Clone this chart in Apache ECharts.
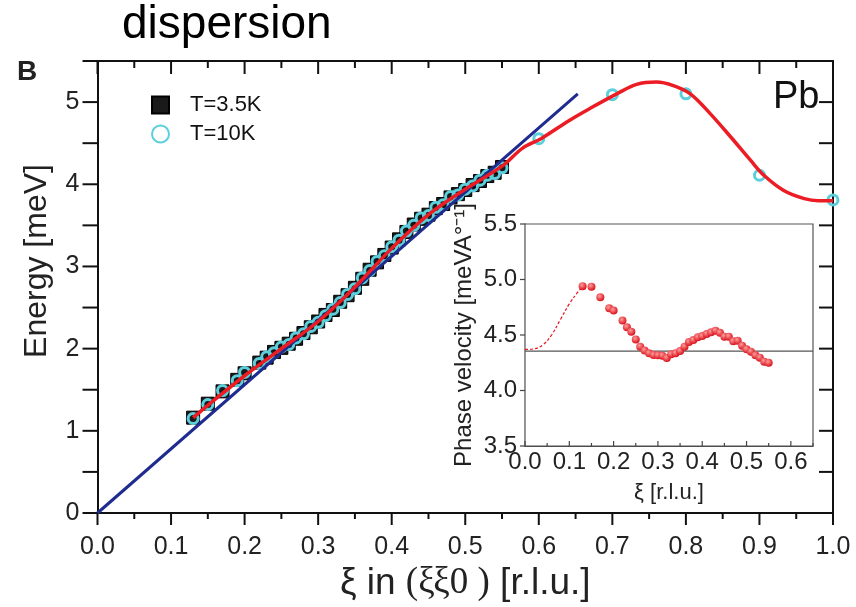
<!DOCTYPE html>
<html>
<head>
<meta charset="utf-8">
<script src="https://cdn.jsdelivr.net/npm/echarts@6/dist/echarts.min.js"></script>
<style>
  html, body { margin: 0; padding: 0; background: #fff; overflow: hidden; }
  #main { width: 856px; height: 607px; }
</style>
</head>
<body>
<div id="main"></div>
<script>
// measured points (T=3.5K and T=10K overlap below 0.55)
var xi = [0.13, 0.15, 0.17, 0.19, 0.20, 0.22, 0.23, 0.24, 0.25, 0.26, 0.27, 0.28, 0.29,
  0.30, 0.31, 0.32, 0.33, 0.34, 0.35, 0.36, 0.37, 0.38, 0.39, 0.40, 0.41, 0.42, 0.43,
  0.44, 0.45, 0.46, 0.47, 0.48, 0.49, 0.50, 0.51, 0.52, 0.53, 0.54, 0.55];
var e35K = [1.16, 1.33, 1.48, 1.62, 1.70, 1.83, 1.89, 1.96, 2.01, 2.06, 2.12, 2.19, 2.26,
  2.33, 2.41, 2.47, 2.57, 2.65, 2.74, 2.85, 2.96, 3.05, 3.14, 3.23, 3.33, 3.42, 3.51,
  3.58, 3.63, 3.71, 3.76, 3.84, 3.88, 3.93, 3.99, 4.04, 4.10, 4.14, 4.21];
var xi10K = xi.concat([0.6, 0.7, 0.8, 0.9, 1.0]);
var e10K = [1.15, 1.32, 1.49, 1.61, 1.71, 1.82, 1.90, 1.95, 2.02, 2.05, 2.13, 2.18, 2.27,
  2.32, 2.40, 2.48, 2.56, 2.66, 2.73, 2.86, 2.95, 3.06, 3.13, 3.24, 3.32, 3.43, 3.50,
  3.59, 3.62, 3.72, 3.75, 3.85, 3.87, 3.94, 3.98, 4.05, 4.11, 4.13, 4.20,
  4.555, 5.09, 5.10, 4.11, 3.81];

// red fit curve
var fitXi = [0.13, 0.15, 0.20, 0.25, 0.30, 0.35, 0.40, 0.45, 0.50, 0.55, 0.578, 0.603, 0.642,
  0.669, 0.706, 0.733, 0.760, 0.783, 0.806, 0.833, 0.861, 0.888, 0.906, 0.933, 0.961, 0.98, 1.0];
var fitE = [1.16, 1.31, 1.67, 2.00, 2.33, 2.75, 3.22, 3.63, 3.94, 4.22, 4.44, 4.555, 4.78,
  4.92, 5.10, 5.215, 5.243, 5.20, 5.10, 4.86, 4.575, 4.29, 4.11, 3.925, 3.825, 3.80, 3.80];

// blue linear (sound velocity) line
var linXi = [0, 0.653];
var linE = [0, 5.10];

// inset: phase velocity
var phaseV = [4.94, 4.935, 4.84, 4.74, 4.72, 4.63, 4.57, 4.53, 4.46, 4.395, 4.36, 4.335, 4.32,
  4.317, 4.314, 4.293, 4.326, 4.335, 4.356, 4.395, 4.437, 4.455, 4.479, 4.49, 4.509, 4.524, 4.539,
  4.52, 4.485, 4.485, 4.443, 4.449, 4.404, 4.371, 4.35, 4.317, 4.296, 4.26, 4.25];
var dashXi = [0, 0.02, 0.04, 0.06, 0.08, 0.10, 0.12, 0.13];
var dashV = [4.37, 4.375, 4.41, 4.50, 4.64, 4.78, 4.89, 4.93];
var refXi = [0, 0.65];
var refV = [4.355, 4.355];

// tick values
var xMajor = [0, 0.1, 0.2, 0.3, 0.4, 0.5, 0.6, 0.7, 0.8, 0.9, 1.0];
var xMinor = [0.05, 0.15, 0.25, 0.35, 0.45, 0.55, 0.65, 0.75, 0.85, 0.95];
var yTicks = [0, 0.5, 1, 1.5, 2, 2.5, 3, 3.5, 4, 4.5, 5, 5.5];
var inXMajor = [0, 0.1, 0.2, 0.3, 0.4, 0.5, 0.6];
var inXMinor = [0.05, 0.15, 0.25, 0.35, 0.45, 0.55, 0.65];
var inYTicks = [3.5, 4.0, 4.5, 5.0, 5.5];

function pairs(xs, ys) {
  return xs.map(function (x, i) { return [x, ys[i]]; });
}
function marked(vals, kind) {
  return vals.map(function (v) { return [v, kind]; });
}

var narrow = "'Liberation Sans Narrow', 'Liberation Sans', Arial, sans-serif";
var sans = "'Liberation Sans', Arial, sans-serif";
var ink = '#111';

function line(c, w) { return { show: true, onZero: false, lineStyle: { color: c, width: w } }; }
function seg(x1, y1, x2, y2, c, w) {
  return { type: 'line', shape: { x1: x1, y1: y1, x2: x2, y2: y2 }, style: { stroke: c, lineWidth: w } };
}

// tick marks drawn through the axes' own scales
function mainXTicks(params, api) {
  var v = api.value(0), major = api.value(1) === 1;
  var b = api.coord([v, 0]), t = api.coord([v, 5.5]);
  return { type: 'group', children: [
    seg(b[0], b[1], b[0], b[1] + (major ? 12 : 6), ink, 2),
    seg(t[0], t[1], t[0], t[1] + (major ? 13 : 7), ink, 2)
  ] };
}
function mainYTicks(params, api) {
  var v = api.value(0);
  var l = api.coord([0, v]), r = api.coord([1, v]);
  return { type: 'group', children: [
    seg(l[0], l[1], l[0] - 15, l[1], ink, 2),
    seg(r[0], r[1], r[0] - 14, r[1], ink, 2)
  ] };
}
function insetXTicks(params, api) {
  var v = api.value(0), major = api.value(1) === 1;
  var b = api.coord([v, 3.5]);
  return seg(b[0], b[1], b[0], b[1] - (major ? 5 : 3), '#444', 1.2);
}
function insetYTicks(params, api) {
  var v = api.value(0);
  var l = api.coord([0, v]);
  return seg(l[0], l[1], l[0] - 5, l[1], '#444', 1.2);
}

var chartDom = document.getElementById('main');
var myChart = echarts.init(chartDom);
var option;

option = {
  animation: false,
  backgroundColor: '#fff',
  title: {
    text: 'dispersion', left: 122, top: 2, padding: 0,
    textStyle: { fontSize: 46, fontWeight: 'normal', fontFamily: sans, color: '#000' }
  },
  graphic: [
    { type: 'text', left: 17, top: 58, style: { text: 'B', font: 'bold 28px ' + sans, fill: '#222' } },
    { type: 'text', left: 773, top: 79, style: { text: 'Pb', font: '38px ' + sans, fill: '#111' } }
  ],
  legend: {
    data: ['T=3.5K', 'T=10K'],
    orient: 'vertical', left: 146, top: 89,
    itemWidth: 17, itemHeight: 17, itemGap: 7,
    textStyle: { fontSize: 22, fontFamily: sans, color: '#111', padding: [0, 0, 0, 16] }
  },
  grid: [
    { left: 97.5, right: 23, top: 61, bottom: 94 },
    { left: 525, top: 224, width: 288, height: 222, show: true, backgroundColor: '#fff',
      borderColor: '#555', borderWidth: 1.2, z: 5 }
  ],
  xAxis: [
    {
      type: 'value', gridIndex: 0, min: 0, max: 1, interval: 0.1,
      name: '{a|ξ in }{b|(ξξ0 )}{a| [r.l.u.]}', nameLocation: 'middle', nameGap: 52,
      nameTextStyle: { rich: {
        a: { fontSize: 37, fontFamily: narrow, color: '#222' },
        b: { fontSize: 37, fontFamily: "'Liberation Serif', serif", color: '#222' }
      } },
      axisLine: line(ink, 2), axisTick: { show: false }, splitLine: { show: false },
      axisLabel: { fontSize: 25, fontFamily: narrow, color: '#222', margin: 22,
        formatter: function (v) { return v.toFixed(1); } }
    },
    {
      type: 'value', gridIndex: 0, position: 'top', min: 0, max: 1, interval: 0.1,
      axisLine: line(ink, 2), axisTick: { show: false }, splitLine: { show: false },
      axisLabel: { show: false }
    },
    {
      type: 'value', gridIndex: 1, min: 0, max: 0.65, interval: 0.1,
      name: 'ξ [r.l.u.]', nameLocation: 'middle', nameGap: 36,
      nameTextStyle: { fontSize: 22, fontFamily: narrow, color: '#222' },
      axisLine: line('#444', 1.2), axisTick: { show: false }, splitLine: { show: false },
      axisLabel: { fontSize: 24, fontFamily: sans, color: '#222', margin: 4,
        formatter: function (v) {
          return Math.abs(v * 10 - Math.round(v * 10)) < 1e-6 ? v.toFixed(1) : '';
        } }
    }
  ],
  yAxis: [
    {
      type: 'value', gridIndex: 0, min: 0, max: 5.5, interval: 0.5,
      name: 'Energy [meV]', nameLocation: 'middle', nameGap: 44,
      nameTextStyle: { fontSize: 32, fontFamily: sans, color: '#222', padding: [0, 0, 0, 52] },
      axisLine: line(ink, 2), axisTick: { show: false }, splitLine: { show: false },
      axisLabel: { fontSize: 25, fontFamily: narrow, color: '#222', margin: 18,
        formatter: function (v) { return v % 1 === 0 ? String(v) : ''; } }
    },
    {
      type: 'value', gridIndex: 0, position: 'right', min: 0, max: 5.5, interval: 0.5,
      axisLine: line(ink, 2), axisTick: { show: false }, splitLine: { show: false },
      axisLabel: { show: false }
    },
    {
      type: 'value', gridIndex: 1, min: 3.5, max: 5.5, interval: 0.5,
      name: 'Phase velocity [meVA°⁻¹]', nameLocation: 'middle', nameGap: 49,
      nameTextStyle: { fontSize: 24, fontFamily: sans, color: '#222' },
      axisLine: line('#444', 1.2), axisTick: { show: false }, splitLine: { show: false },
      axisLabel: { fontSize: 24, fontFamily: sans, color: '#222', margin: 8,
        formatter: function (v) { return v.toFixed(1); } }
    }
  ],
  series: [
    {
      type: 'custom', xAxisIndex: 0, yAxisIndex: 0, clip: false, silent: true, z: 1,
      renderItem: mainXTicks, encode: { x: 0 },
      data: marked(xMajor, 1).concat(marked(xMinor, 0))
    },
    {
      type: 'custom', xAxisIndex: 0, yAxisIndex: 0, clip: false, silent: true, z: 1,
      renderItem: mainYTicks, encode: { y: 0 },
      data: yTicks.map(function (v) { return [v]; })
    },
    {
      name: 'T=3.5K', type: 'scatter', xAxisIndex: 0, yAxisIndex: 0,
      symbol: 'rect', symbolSize: 13, z: 2,
      itemStyle: { color: '#1a1a1a', borderColor: '#000', borderWidth: 1, opacity: 1 },
      data: pairs(xi, e35K)
    },
    {
      name: 'T=10K', type: 'scatter', xAxisIndex: 0, yAxisIndex: 0,
      symbol: 'circle', symbolSize: 10, z: 3,
      itemStyle: { color: 'rgba(255,255,255,0)', borderColor: '#5ccfdd', borderWidth: 3, opacity: 1 },
      data: pairs(xi10K, e10K)
    },
    {
      type: 'line', xAxisIndex: 0, yAxisIndex: 0, symbol: 'none', z: 4,
      lineStyle: { color: '#1f2b8f', width: 3 },
      data: pairs(linXi, linE)
    },
    {
      type: 'line', xAxisIndex: 0, yAxisIndex: 0, symbol: 'none', smooth: 0.35, z: 5,
      lineStyle: { color: '#ec1c24', width: 3.5 },
      data: pairs(fitXi, fitE)
    },
    {
      type: 'line', xAxisIndex: 2, yAxisIndex: 2, symbol: 'none', z: 6,
      lineStyle: { color: '#555', width: 1.2 },
      data: pairs(refXi, refV)
    },
    {
      type: 'line', xAxisIndex: 2, yAxisIndex: 2, symbol: 'none', smooth: 0.4, z: 6,
      itemStyle: { color: '#e8141c' },
      lineStyle: { color: '#e8141c', width: 1.2, type: [3, 2] },
      data: pairs(dashXi, dashV)
    },
    {
      type: 'custom', xAxisIndex: 2, yAxisIndex: 2, clip: false, silent: true, z: 8,
      renderItem: insetXTicks, encode: { x: 0 },
      data: marked(inXMajor, 1).concat(marked(inXMinor, 0))
    },
    {
      type: 'custom', xAxisIndex: 2, yAxisIndex: 2, clip: false, silent: true, z: 8,
      renderItem: insetYTicks, encode: { y: 0 },
      data: inYTicks.map(function (v) { return [v]; })
    },
    {
      type: 'scatter', xAxisIndex: 2, yAxisIndex: 2, symbol: 'circle', symbolSize: 8, z: 7,
      itemStyle: {
        opacity: 1,
        color: {
          type: 'radial', x: 0.4, y: 0.35, r: 0.65,
          colorStops: [{ offset: 0, color: '#ff9c9c' }, { offset: 1, color: '#d9101a' }]
        }
      },
      data: pairs(xi, phaseV)
    }
  ]
};

option && myChart.setOption(option);
</script>
</body>
</html>
